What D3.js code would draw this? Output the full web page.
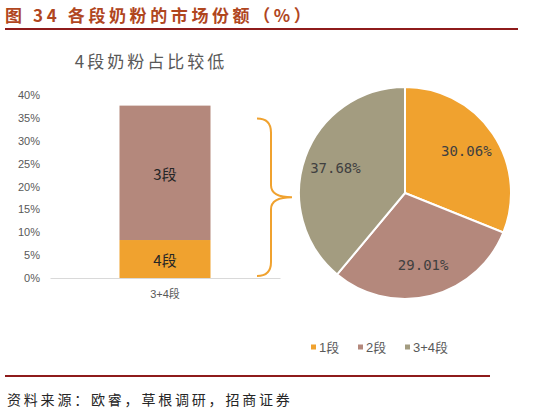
<!DOCTYPE html>
<html>
<head>
<meta charset="utf-8">
<script src="https://cdn.jsdelivr.net/npm/d3@7"></script>
<style>
  body { margin: 0; background: #fff; }
  text { font-family: "Liberation Sans", "Noto Sans CJK SC", sans-serif; }
  .cjk { font-family: "Noto Sans CJK SC", sans-serif; }
  .mono { font-family: "DejaVu Sans Mono", monospace; }
</style>
</head>
<body>
<div id="chart"></div>
<script>
// Data
var barCategories = ["3+4段"];
var barStages = ["4段", "3段"];
var barValues = [8.3, 29.38];
var yTicks = [0, 5, 10, 15, 20, 25, 30, 35, 40];
var pieLabels = ["1段", "2段", "3+4段"];
var pieValues = [30.06, 29.01, 37.68];

var colors = ["#F0A22F", "#B4887C", "#A39C80"];
var stageColors = ["#F0A22F", "#B4887C"];

var svgWidth = 554;
var svgHeight = 417;

var svg = d3.select("#chart")
    .append("svg")
    .attr("width", svgWidth)
    .attr("height", svgHeight);

// Header title and rule
svg.append("text")
    .attr("class", "cjk")
    .attr("x", 5)
    .attr("y", 22)
    .attr("fill", "#B0461E")
    .attr("font-size", 17)
    .attr("font-weight", "bold")
    .attr("letter-spacing", 3.6)
    .text("图 34 各段奶粉的市场份额（%）");

svg.append("line")
    .attr("x1", 5).attr("x2", 518)
    .attr("y1", 29).attr("y2", 29)
    .attr("stroke", "#8E1B1B")
    .attr("stroke-width", 2);

// Subtitle of the bar part
svg.append("text")
    .attr("class", "cjk")
    .attr("x", 151)
    .attr("y", 68)
    .attr("text-anchor", "middle")
    .attr("fill", "#595959")
    .attr("font-size", 17)
    .attr("letter-spacing", 3)
    .text("4段奶粉占比较低");

// Bar scales
var yScale = d3.scaleLinear().domain([0, 40]).range([278, 95]);
var xBand = d3.scaleBand().domain(barCategories).range([50, 280]).padding(0.433);

var leftAxis = d3.axisLeft(yScale)
    .tickValues(yTicks)
    .tickFormat(function (d) { return d + "%"; })
    .tickSize(0)
    .tickPadding(0);

var yAxisG = svg.append("g")
    .attr("transform", "translate(40,0)")
    .call(leftAxis);
yAxisG.select(".domain").remove();
yAxisG.selectAll("text")
    .attr("fill", "#595959")
    .attr("font-size", 11);

var bottomAxis = d3.axisBottom(xBand).tickSize(0).tickPadding(12);
var xAxisG = svg.append("g")
    .attr("transform", "translate(0,278)")
    .call(bottomAxis);
xAxisG.select(".domain").attr("stroke", "#D9D9D9");
xAxisG.selectAll("text")
    .attr("fill", "#595959")
    .attr("font-size", 11);

// Stacked bar segments
var stacked = [];
var acc = 0;
barValues.forEach(function (v, i) {
    stacked.push({ stage: barStages[i], y0: acc, y1: acc + v, color: stageColors[i] });
    acc += v;
});

svg.selectAll("rect.seg")
    .data(stacked)
    .enter()
    .append("rect")
    .attr("class", "seg")
    .attr("x", xBand(barCategories[0]))
    .attr("width", xBand.bandwidth())
    .attr("y", function (d) { return yScale(d.y1); })
    .attr("height", function (d) { return yScale(d.y0) - yScale(d.y1); })
    .attr("fill", function (d) { return d.color; });

svg.selectAll("text.segLabel")
    .data(stacked)
    .enter()
    .append("text")
    .attr("class", "segLabel cjk")
    .attr("x", xBand(barCategories[0]) + xBand.bandwidth() / 2)
    .attr("y", function (d) { return (yScale(d.y0) + yScale(d.y1)) / 2 + 2; })
    .attr("dy", "0.35em")
    .attr("text-anchor", "middle")
    .attr("fill", "#262626")
    .attr("font-size", 15)
    .text(function (d) { return d.stage; });

// Curly brace joining the bar to the pie
var bTop = yScale(acc) + 13, bBot = 276, bMid = (bTop + bBot) / 2;
svg.append("path")
    .attr("d", "M257," + bTop + " Q271," + bTop + " 271," + (bTop + 14) +
        " L271," + (bMid - 12) + " Q271," + bMid + " 292," + bMid +
        " Q271," + bMid + " 271," + (bMid + 12) +
        " L271," + (bBot - 14) + " Q271," + bBot + " 257," + bBot)
    .attr("fill", "none")
    .attr("stroke", "#F0A22F")
    .attr("stroke-width", 2);

// Pie
var pieG = svg.append("g").attr("transform", "translate(405,193)");
var pie = d3.pie().sort(null);
var arcs = pie(pieValues);
var arc = d3.arc().innerRadius(0).outerRadius(106);
var labelArc = d3.arc().innerRadius(74).outerRadius(74);

pieG.selectAll("path")
    .data(arcs)
    .enter()
    .append("path")
    .attr("d", arc)
    .attr("fill", function (d, i) { return colors[i]; })
    .attr("stroke", "#fff")
    .attr("stroke-width", 2);

pieG.selectAll("text")
    .data(arcs)
    .enter()
    .append("text")
    .attr("class", "mono")
    .attr("transform", function (d) { return "translate(" + labelArc.centroid(d) + ")"; })
    .attr("dy", "0.35em")
    .attr("text-anchor", "middle")
    .attr("fill", "#404040")
    .attr("font-size", 14)
    .text(function (d) { return d.data.toFixed(2) + "%"; });

// Legend
var legendX = [311, 358, 405];
var legend = svg.selectAll("g.legend")
    .data(pieLabels)
    .enter()
    .append("g")
    .attr("class", "legend")
    .attr("transform", function (d, i) { return "translate(" + legendX[i] + ",347)"; });

legend.append("rect")
    .attr("x", 0).attr("y", -2.5)
    .attr("width", 5).attr("height", 5)
    .attr("fill", function (d, i) { return colors[i]; });

legend.append("text")
    .attr("x", 8)
    .attr("dy", "0.35em")
    .attr("fill", "#595959")
    .attr("font-size", 13)
    .text(function (d) { return d; });

// Footer rule and source
svg.append("line")
    .attr("x1", 5).attr("x2", 490)
    .attr("y1", 376).attr("y2", 376)
    .attr("stroke", "#8E1B1B")
    .attr("stroke-width", 2);

svg.append("text")
    .attr("class", "cjk")
    .attr("x", 7)
    .attr("y", 405)
    .attr("fill", "#262626")
    .attr("font-size", 14)
    .attr("letter-spacing", 2.8)
    .text("资料来源：欧睿，草根调研，招商证券");
</script>
</body>
</html>
